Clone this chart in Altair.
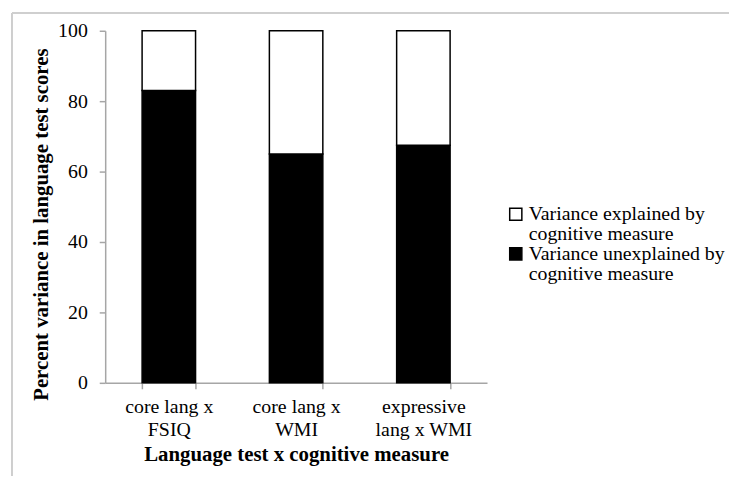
import altair as alt
import pandas as pd

categories = ["core lang x FSIQ", "core lang x WMI", "expressive lang x WMI"]
category_lines = [["core lang x", "FSIQ"], ["core lang x", "WMI"], ["expressive", "lang x WMI"]]
unexplained = [83.0, 65.0, 67.5]
explained = [17.0, 35.0, 32.5]
series = ["Variance explained by cognitive measure", "Variance unexplained by cognitive measure"]
series_lines = [["Variance explained by", "cognitive measure"], ["Variance unexplained by", "cognitive measure"]]
series_colors = ["#ffffff", "#000000"]
y_ticks = [0, 20, 40, 60, 80, 100]

rows = []
for c, u, e in zip(categories, unexplained, explained):
    rows.append({"cat": c, "series": series[1], "value": u, "ord": 0})
    rows.append({"cat": c, "series": series[0], "value": e, "ord": 1})
df = pd.DataFrame(rows)


def to_expr(keys, lines):
    expr = "''"
    for k, ls in reversed(list(zip(keys, lines))):
        arr = "[" + ",".join("'" + l + "'" for l in ls) + "]"
        expr = f"datum.value == '{k}' ? {arr} : ({expr})"
    return expr


FONT = "Liberation Serif"
GRAY = "#a6a6a6"

bars = alt.Chart(df).mark_bar(stroke="black", strokeWidth=1.5).encode(
    x=alt.X("cat:N", sort=categories,
            scale=alt.Scale(paddingInner=0.58, paddingOuter=0.29),
            axis=alt.Axis(title="Language test x cognitive measure", labelAngle=0,
                          labelExpr=to_expr(categories, category_lines),
                          tickBand="extent", labelPadding=8, labelLineHeight=23,
                          titlePadding=4)),
    y=alt.Y("value:Q", stack="zero",
            scale=alt.Scale(domain=[0, 100]),
            axis=alt.Axis(title="Percent variance in language test scores", values=y_ticks,
                          grid=False, labelPadding=12, titlePadding=6, titleY=195)),
    color=alt.Color("series:N", sort=series,
                    scale=alt.Scale(domain=series, range=series_colors),
                    legend=alt.Legend(title=None, orient="none", legendX=404, legendY=175,
                                      symbolType="square", symbolSize=150,
                                      symbolStrokeColor="black", symbolStrokeWidth=1.5,
                                      labelExpr=to_expr(series, series_lines),
                                      labelFont=FONT, labelFontSize=20, labelColor="black",
                                      labelLimit=300, rowPadding=-6,
                                      labelBaseline="middle", labelOffset=3)),
    order=alt.Order("ord:Q"),
)

frame_top = alt.Chart(df).mark_rule(color="#cfcfcf", strokeWidth=1.5, clip=False).encode(
    x=alt.value(-94), x2=alt.value(650), y=alt.value(-18)
)
frame_left = alt.Chart(df).mark_rule(color="#cfcfcf", strokeWidth=1.5, clip=False).encode(
    x=alt.value(-94), y=alt.value(-18), y2=alt.value(470)
)

chart = alt.layer(frame_top, frame_left, bars).properties(
    width=385, height=355,
    autosize=alt.AutoSizeParams(type="none"),
    padding={"left": 98, "top": 21, "right": 244, "bottom": 92},
    background="white",
).configure(
    style={"guide-label": {"font": FONT, "lineHeight": 20}}
).configure_view(stroke=None).configure_axis(
    domainColor=GRAY, tickColor=GRAY, domainWidth=1.5, tickWidth=1.5, tickSize=6,
    labelFont=FONT, labelFontSize=20, labelColor="black",
    titleFont=FONT, titleFontSize=21, titleFontWeight="bold", titleColor="black",
)

chart.save("out.html", embed_options={"renderer": "svg", "actions": False})
